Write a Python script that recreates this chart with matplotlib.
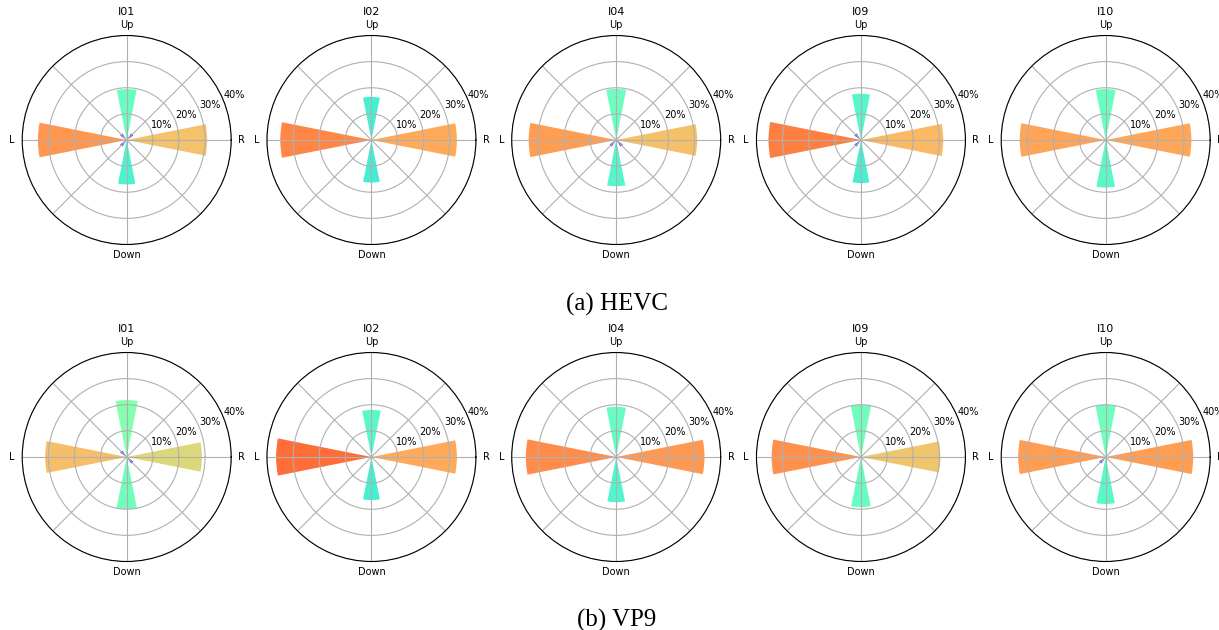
import numpy as np
import matplotlib.pyplot as plt

sequences = ['I01', 'I02', 'I04', 'I09', 'I10']
# directions, counter-clockwise from the right
dir_angles = [0, 45, 90, 135, 180, 225, 270, 315]
dir_labels = ['R', '', 'Up', '', 'L', '', 'Down', '']

# share of motion vectors per direction (%), order as dir_angles
hevc = [
    [30.8, 3.0, 19.5, 3.0, 34.0, 3.0, 17.0, 0.4],
    [32.7, 0.2, 16.5, 0.2, 34.9, 0.2, 16.3, 0.2],
    [31.0, 0.4, 19.6, 0.4, 33.5, 3.0, 17.7, 3.0],
    [31.5, 0.3, 17.7, 3.0, 35.4, 3.0, 16.5, 0.3],
    [32.8, 0.2, 19.5, 0.2, 32.9, 0.2, 18.2, 0.2],
]
vp9 = [
    [28.8, 0.4, 21.8, 3.0, 31.2, 0.4, 20.0, 3.0],
    [32.7, 0.2, 18.0, 0.2, 36.5, 0.2, 16.5, 0.2],
    [33.8, 0.3, 19.2, 0.3, 34.6, 0.3, 17.3, 0.3],
    [30.4, 0.3, 20.0, 0.3, 34.2, 0.3, 19.2, 0.3],
    [33.5, 0.3, 20.0, 0.3, 33.5, 3.0, 18.0, 0.3],
]
captions = ['(a) HEVC', '(b) VP9']

W, H = 1219, 630
fig = plt.figure(figsize=(W / 100, H / 100), dpi=100)

theta = np.deg2rad(dir_angles)
vmax = 42.5
R = 104.5
cx = [126.7 + 244.75 * i for i in range(5)]
cy = [140, 457]

for row, data in enumerate([hevc, vp9]):
    for i, seq in enumerate(sequences):
        ax = fig.add_axes([(cx[i] - R) / W, (H - cy[row] - R) / H, 2 * R / W, 2 * R / H],
                          projection='polar')
        r = np.array(data[i])
        ax.bar(theta, r, width=np.pi / 8, bottom=0.0,
               color=plt.cm.rainbow(r / vmax))
        ax.set_ylim(0, 40)
        ax.set_yticks([10, 20, 30, 40])
        ax.set_yticklabels(['10%', '20%', '30%', '40%'])
        ax.set_xticks(theta)
        ax.set_xticklabels(dir_labels)
        ax.tick_params(axis='x', labelsize=7, pad=-3)
        ax.tick_params(axis='y', labelsize=7)
        ax.set_title(seq, fontsize=8, pad=3.5)

    fig.text(617 / W, 1 - (304 if row == 0 else 620) / H, captions[row],
             ha='center', va='center', fontsize=18, family='Liberation Serif')

fig.savefig('out.png', dpi=100)
